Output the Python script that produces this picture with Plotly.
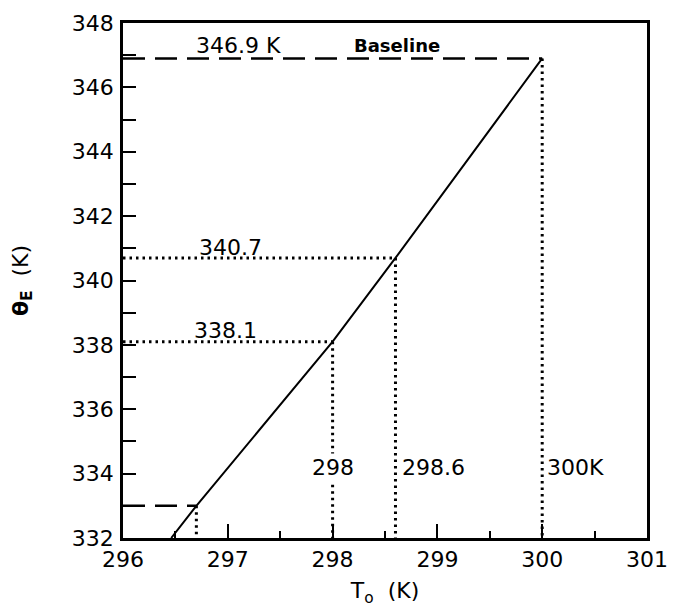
import plotly.graph_objects as go

# Data
curve_T = [296.46, 296.7, 298.0, 298.6, 300.0]
curve_theta = [332.0, 333.0, 338.1, 340.7, 346.9]

baseline_T = 300.0
baseline_theta = 346.9
low_T = 296.7
low_theta = 333.0
mark_T = [298.0, 298.6]
mark_theta = [338.1, 340.7]

x_range = [296, 301]
y_range = [332, 348]
x_ticks = [296, 297, 298, 299, 300, 301]
y_ticks = list(range(332, 349))
y_ticktext = [str(v) if v % 2 == 0 else "" for v in y_ticks]

FONT = "DejaVu Sans"
BLACK = "black"
FS = 22

fig = go.Figure()

# main curve
fig.add_trace(go.Scatter(x=curve_T, y=curve_theta, mode="lines",
                         line=dict(color=BLACK, width=2),
                         showlegend=False, hoverinfo="skip"))

DASH = "22px,10px"
DOT = "2.5px,4px"

# baseline dashed horizontal + dotted vertical
fig.add_trace(go.Scatter(x=[x_range[0], baseline_T], y=[baseline_theta, baseline_theta],
                         mode="lines", line=dict(color=BLACK, width=2.5, dash=DASH),
                         showlegend=False, hoverinfo="skip"))
fig.add_trace(go.Scatter(x=[baseline_T, baseline_T], y=[baseline_theta, y_range[0]],
                         mode="lines", line=dict(color=BLACK, width=3, dash=DOT),
                         showlegend=False, hoverinfo="skip"))

# low point dashed horizontal + dotted vertical
fig.add_trace(go.Scatter(x=[x_range[0], low_T], y=[low_theta, low_theta],
                         mode="lines", line=dict(color=BLACK, width=2.5, dash=DASH),
                         showlegend=False, hoverinfo="skip"))
fig.add_trace(go.Scatter(x=[low_T, low_T], y=[low_theta, y_range[0]],
                         mode="lines", line=dict(color=BLACK, width=3, dash=DOT),
                         showlegend=False, hoverinfo="skip"))

# dotted guides for intermediate points
for t, th in zip(mark_T, mark_theta):
    fig.add_trace(go.Scatter(x=[x_range[0], t], y=[th, th], mode="lines",
                             line=dict(color=BLACK, width=3, dash=DOT),
                             showlegend=False, hoverinfo="skip"))
    fig.add_trace(go.Scatter(x=[t, t], y=[th, y_range[0]], mode="lines",
                             line=dict(color=BLACK, width=3, dash=DOT),
                             showlegend=False, hoverinfo="skip"))

afont = dict(family=FONT, size=FS, color=BLACK)
label_y = 334.18
annotations = [
    dict(x=297.1, y=347.3, text="346.9 K", xanchor="center", yanchor="middle"),
    dict(x=298.61, y=347.3, text="<b>Baseline</b>", xanchor="center", yanchor="middle",
         font=dict(family=FONT, size=18, color=BLACK)),
    dict(x=297.03, y=341.04, text=f"{mark_theta[1]}", xanchor="center", yanchor="middle"),
    dict(x=296.98, y=338.46, text=f"{mark_theta[0]}", xanchor="center", yanchor="middle"),
    dict(x=mark_T[0], y=label_y, text="298", xanchor="center", yanchor="middle",
         bgcolor="white", borderpad=1),
    dict(x=298.64, y=label_y, text="298.6", xanchor="left", yanchor="middle"),
    dict(x=300.03, y=label_y, text="300K", xanchor="left", yanchor="middle"),
]
for a in annotations:
    a.setdefault("font", afont)
    a.update(showarrow=False, xref="x", yref="y")
    fig.add_annotation(**a)

fig.update_xaxes(range=x_range, tickvals=x_ticks, ticks="inside", ticklen=14, tickwidth=2,
                 tickcolor=BLACK, showline=True, linecolor=BLACK, linewidth=2.5, mirror=True,
                 showgrid=False, zeroline=False, ticklabelstandoff=0, automargin=False,
                 minor=dict(dtick=0.5, ticks="inside", ticklen=7, tickwidth=2, tickcolor=BLACK),
                 tickfont=dict(family=FONT, size=FS, color=BLACK),
                 title=dict(text="T<sub>o</sub>  (K)", font=dict(family=FONT, size=FS, color=BLACK),
                            standoff=16))
fig.update_yaxes(range=y_range, tickvals=y_ticks, ticktext=y_ticktext, ticks="inside", ticklen=13,
                 tickwidth=2, tickcolor=BLACK, showline=True, linecolor=BLACK, linewidth=2.5,
                 mirror=True, showgrid=False, zeroline=False, ticklabelstandoff=2, automargin=False,
                 tickfont=dict(family=FONT, size=FS, color=BLACK),
                 title=dict(text="<b>θ<sub>E</sub></b>  (K)", font=dict(family=FONT, size=FS, color=BLACK),
                            standoff=38))

fig.update_layout(width=675, height=607, margin=dict(l=123, r=28, t=23, b=69),
                  plot_bgcolor="white", paper_bgcolor="white")

fig.write_html("out.html")
